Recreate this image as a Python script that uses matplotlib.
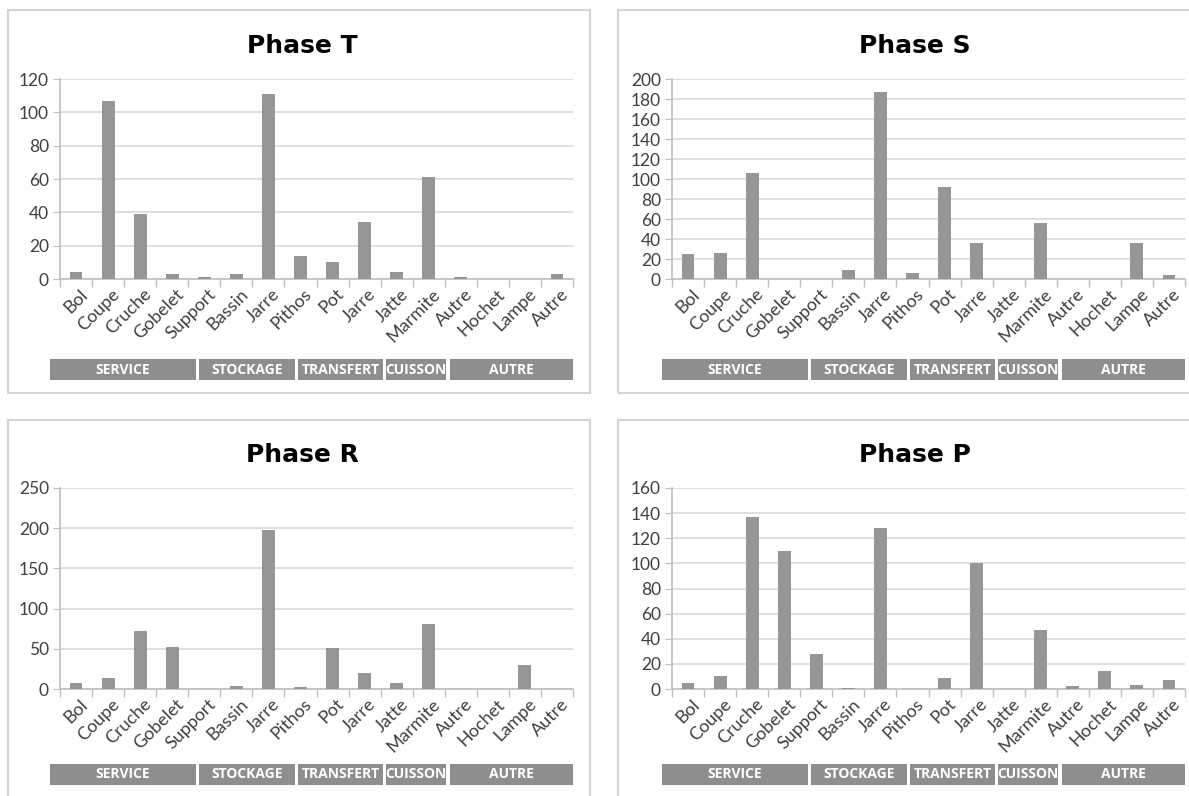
import matplotlib
matplotlib.use("Agg")
import matplotlib.pyplot as plt
import matplotlib.transforms as mtransforms
from matplotlib.patches import Rectangle
import numpy as np

# --- data ---------------------------------------------------------------
categories = ["Bol", "Coupe", "Cruche", "Gobelet", "Support", "Bassin", "Jarre",
              "Pithos", "Pot", "Jarre", "Jatte", "Marmite", "Autre", "Hochet",
              "Lampe", "Autre"]

phase_t = [4, 107, 39, 3, 1, 3, 111, 14, 10, 34, 4, 61, 1, 0, 0, 3]
phase_s = [25, 26, 106, 0, 0, 9, 187, 6, 92, 36, 0, 56, 0, 0, 36, 4]
phase_r = [8, 14, 72, 52, 0, 4, 198, 2, 51, 20, 8, 81, 0, 0, 30, 0]
phase_p = [5, 10, 137, 110, 28, 1, 128, 0, 9, 100, 0, 47, 2, 14, 3, 7]

group_labels = ["SERVICE", "STOCKAGE", "TRANSFERT", "CUISSON", "AUTRE"]
# band extents in category units (as drawn, slightly off the category grid)
group_spans = [(-0.81, 3.74), (3.84, 6.83), (6.92, 9.57), (9.67, 11.54), (11.66, 15.5)]

y_max = {"T": 120, "S": 200, "R": 250, "P": 160}
y_step = {"T": 20, "S": 20, "R": 50, "P": 20}

# --- style ---------------------------------------------------------------
W, H = 1189, 796
BAR = "#969696"
BAND = "#8e8e8e"
GRID = "#d9d9d9"
TXT = "#404040"
plt.rcParams["font.family"] = ["Lato", "DejaVu Sans"]


def fx(px):
    return px / W


def fy(py):
    return 1 - py / H


def draw_panel(fig, name, values, left_px, top_px, bottom_px, box, band_px):
    width_px = 513
    ax = fig.add_axes([fx(left_px), fy(bottom_px), width_px / W, (bottom_px - top_px) / H])
    x = np.arange(len(categories))
    ax.bar(x, values, width=0.4, color=BAR, zorder=3)

    ax.set_xlim(-0.5, len(categories) - 0.5)
    ax.set_ylim(0, y_max[name])
    ax.set_yticks(np.arange(0, y_max[name] + 1, y_step[name]))
    ax.grid(axis="y", color=GRID, linewidth=1.2, zorder=0)

    # tick marks between categories, labels at centres
    ax.set_xticks(np.arange(-0.5, len(categories)), labels=[])
    ax.set_xticks(x + 0.1, labels=categories, minor=True)
    ax.tick_params(axis="x", which="major", length=6, color="#bfbfbf", width=1)
    ax.tick_params(axis="x", which="minor", length=0, pad=5, labelsize=13, labelcolor=TXT)
    for lab in ax.get_xticklabels(minor=True):
        lab.set_rotation(45)
        lab.set_ha("right")
        lab.set_va("top")
        lab.set_rotation_mode("anchor")

    ax.tick_params(axis="y", length=5, color="#bfbfbf", labelsize=12.5, labelcolor=TXT, pad=3)
    for side in ("top", "right"):
        ax.spines[side].set_visible(False)
    ax.spines["left"].set_color("#bfbfbf")
    ax.spines["bottom"].set_color("#bfbfbf")
    ax.spines["left"].set_linewidth(1.2)
    ax.spines["bottom"].set_linewidth(1.2)

    # group bands under the labels
    trans = mtransforms.blended_transform_factory(ax.transData, fig.transFigure)
    y0, y1 = fy(band_px[1]), fy(band_px[0])
    for label, (a, b) in zip(group_labels, group_spans):
        ax.add_patch(Rectangle((a, y0), b - a, y1 - y0, transform=trans,
                               facecolor=BAND, edgecolor="none", clip_on=False))
        ax.text((a + b) / 2, (y0 + y1) / 2, label, transform=trans, ha="center",
                va="center", color="white", fontsize=10, fontweight="bold",
                family=["Open Sans", "DejaVu Sans"])

    # title
    bx0, by0, bx1, by1 = box
    fig.text(fx(left_px + width_px / 2 - 14), fy(top_px - 33), f"Phase {name}",
             ha="center", va="center", fontsize=18, fontweight="bold", color="black",
             family=["DejaVu Sans"])

    # panel frame
    fig.add_artist(Rectangle((fx(bx0), fy(by1)), fx(bx1 - bx0), (by1 - by0) / H,
                             transform=fig.transFigure, facecolor="none",
                             edgecolor="#d4d4d4", linewidth=1.5))
    return ax


fig = plt.figure(figsize=(W / 100, H / 100), dpi=100)

draw_panel(fig, "T", phase_t, 60, 79, 279, (8, 10, 590, 393), (359, 380))
draw_panel(fig, "S", phase_s, 672, 79, 279, (618, 10, 1200, 393), (359, 380))
draw_panel(fig, "R", phase_r, 60, 488, 689, (8, 420, 590, 810), (764, 785))
draw_panel(fig, "P", phase_p, 672, 488, 689, (618, 420, 1200, 810), (764, 785))

fig.savefig("out.png", dpi=100)
